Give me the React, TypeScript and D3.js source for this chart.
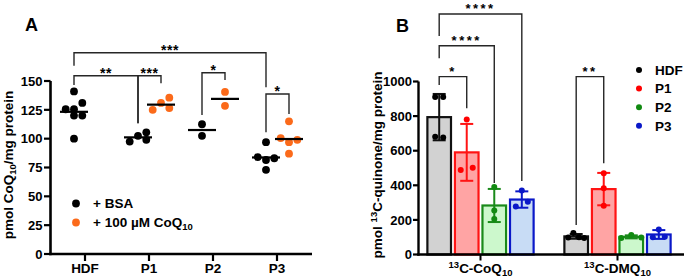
import React from "react";
import * as d3 from "d3";

// ---------- Panel A data ----------
const categoriesA = ["HDF", "P1", "P2", "P3"];
const bsaValues = [
  [141, 131, 125.5, 125.5, 120, 120, 100],
  [97.5, 102.5, 105.5, 99],
  [112.5, 102.5],
  [97, 84, 81.5, 83, 73],
];
const bsaJitter = [
  [0, 1, -1, 0, 0, 1, 0],
  [-1, 0, 1, 1],
  [0, 0],
  [0, -1, 0, 1, 0],
];
const coqValues = [[], [125, 131, 135.5, 126.5], [140.5, 128.5], [115, 100.5, 97, 99, 87]];
const coqJitter = [[], [-1, 0, 1, 1], [0, 0], [0, -1, 0, 1, 0]];
const yTicksA = [0, 25, 50, 75, 100, 125, 150];
// brackets: [category, series] endpoints, bar height, leg ends (data units)
const bracketsA = [
  { label: "***", a: ["HDF", "bsa"], b: ["P3", "bsa"], top: 174.5, endA: 163.3, endB: 144.5 },
  { label: "**", a: ["HDF", "bsa"], b: ["P1", "bsa"], top: 154.6, endA: 146.5, endB: 113.3 },
  { label: "***", a: ["P1", "bsa"], b: ["P1", "coq"], top: 154.6, endA: 113.3, endB: 148 },
  { label: "*", a: ["P2", "bsa"], b: ["P2", "coq"], top: 157.2, endA: 120.5, endB: 150.9 },
  { label: "*", a: ["P3", "bsa"], b: ["P3", "coq"], top: 138.7, endA: 105.5, endB: 121.3 },
];

// ---------- Panel B data ----------
const groupsB = ["13C-CoQ10", "13C-DMQ10"];
const seriesB = ["HDF", "P1", "P2", "P3"];
const coqB = [
  [910, 910, 680, 676],
  [780, 489, 502],
  [390, 255, 205],
  [370, 278, 305],
];
const coqBJitter = [[-1, 1, -1, 1], [0, -1.5, 1.5], [0, 0, 0], [0, -1.5, 1.5]];
const dmqB = [
  [98, 125, 100, 96],
  [469, 383, 282],
  [96, 112, 98],
  [100, 145, 102],
];
const dmqBJitter = [[-2, -0.7, 0.7, 2], [0, 0, 0], [-2.5, 0, 2.5], [-1.5, 0, 1.5]];
const yTicksB = [0, 200, 400, 600, 800, 1000];
const bracketsB = [
  { label: "*", a: [0, "HDF"], b: [0, "P1"], top: 1028, endA: 980, endB: 845 },
  { label: "****", a: [0, "HDF"], b: [0, "P2"], top: 1207, endA: 1134, endB: 413 },
  { label: "****", a: [0, "HDF"], b: [0, "P3"], top: 1390, endA: 1263, endB: 425 },
  { label: "**", a: [1, "HDF"], b: [1, "P1"], top: 1028, endA: 170, endB: 527 },
];

const fillB: Record<string, string> = { HDF: "#d2d2d2", P1: "#ffa4a4", P2: "#ccf8cc", P3: "#c8dcf5" };
const strokeB: Record<string, string> = { HDF: "#111111", P1: "#ff1414", P2: "#1a8a1a", P3: "#0a18c8" };
const dotB: Record<string, string> = { HDF: "#000000", P1: "#ff0000", P2: "#118a11", P3: "#0a18c8" };

const ORANGE = "#fb6a1a";
const FONT = "Arial, 'Liberation Sans', sans-serif";

export default function App() {
  // Panel A scales
  const xA = d3.scaleBand().domain(categoriesA).range([53, 309]);
  const yA = d3.scaleLinear().domain([0, 150]).range([254, 81]);
  const groupOff: Record<string, number> = { bsa: -11, coq: 12 };
  const cx = (cat: string, s: string) => (xA(cat) as number) + xA.bandwidth() / 2 + groupOff[s];
  const jitterA = 8.3;

  // Panel B scales
  const xB = d3.scaleBand().domain(groupsB).range([412, 686]).paddingInner(0.21).paddingOuter(0.105);
  const xBi = d3.scaleBand().domain(seriesB).range([0, xB.bandwidth()]).paddingInner(0.07);
  const yB = d3.scaleLinear().domain([0, 1000]).range([254.5, 81.5]);
  const barCx = (gi: number, s: string) =>
    (xB(groupsB[gi]) as number) + (xBi(s) as number) + xBi.bandwidth() / 2;
  const jitterB = 4;

  const bracketPath = (x1: number, x2: number, yt: number, y1: number, y2: number) =>
    `M${x1},${y1}V${yt}H${x2}V${y2}`;

  const groupDataB = [coqB, dmqB];
  const groupJitB = [coqBJitter, dmqBJitter];

  return (
    <svg
      width={685}
      height={279}
      style={{ position: "absolute", left: 0, top: 0, background: "#fff" }}
      fontFamily={FONT}
      fontWeight="bold"
    >
      {/* ================= Panel A ================= */}
      <text x={25} y={31} fontSize={18}>A</text>
      {/* y axis */}
      <line x1={50.5} x2={50.5} y1={yA(150)} y2={yA(0) + 1.2} stroke="#000" strokeWidth={2.6} />
      {yTicksA.map((t) => (
        <g key={t}>
          <line x1={44} x2={50.5} y1={yA(t)} y2={yA(t)} stroke="#000" strokeWidth={2.2} />
          <text x={42.5} y={yA(t)} dy="0.36em" textAnchor="end" fontSize={13}>{t}</text>
        </g>
      ))}
      {/* x axis */}
      <line x1={49.2} x2={312} y1={yA(0)} y2={yA(0)} stroke="#000" strokeWidth={2.6} />
      {categoriesA.map((c) => {
        const x = (xA(c) as number) + xA.bandwidth() / 2;
        return (
          <g key={c}>
            <line x1={x} x2={x} y1={yA(0)} y2={yA(0) + 7} stroke="#000" strokeWidth={2.2} />
            <text x={x} y={273} textAnchor="middle" fontSize={13.5}>{c}</text>
          </g>
        );
      })}
      {/* y label */}
      <text transform={`translate(13,165) rotate(-90)`} textAnchor="middle" fontSize={13.5}>
        pmol CoQ<tspan fontSize={9.5} dy={3}>10</tspan>
        <tspan dy={-3}>/mg protein</tspan>
      </text>
      {/* points */}
      {categoriesA.map((c, ci) => (
        <g key={c}>
          {[{ s: "bsa", vals: bsaValues[ci], jit: bsaJitter[ci], col: "#000" },
            { s: "coq", vals: coqValues[ci], jit: coqJitter[ci], col: ORANGE }].map((g) =>
            g.vals.length ? (
              <g key={g.s}>
                {g.vals.map((v, i) => (
                  <circle key={i} cx={cx(c, g.s) + g.jit[i] * jitterA} cy={yA(v)} r={3.9} fill={g.col} />
                ))}
                <line
                  x1={cx(c, g.s) - 14}
                  x2={cx(c, g.s) + 14}
                  y1={yA(d3.mean(g.vals) as number)}
                  y2={yA(d3.mean(g.vals) as number)}
                  stroke="#000"
                  strokeWidth={2.2}
                />
              </g>
            ) : null
          )}
        </g>
      ))}
      {/* brackets A */}
      {bracketsA.map((b, i) => {
        const x1 = cx(b.a[0], b.a[1]);
        const x2 = cx(b.b[0], b.b[1]);
        return (
          <g key={i}>
            <path d={bracketPath(x1, x2, yA(b.top), yA(b.endA), yA(b.endB))} fill="none" stroke="#262626" strokeWidth={1.4} />
            <text x={(x1 + x2) / 2} y={yA(b.top) + 2} textAnchor="middle" fontSize={14} letterSpacing={0.5}>{b.label}</text>
          </g>
        );
      })}
      {/* legend A */}
      <circle cx={76} cy={203.5} r={3.9} fill="#000" />
      <text x={93} y={203.5} dy="0.36em" fontSize={13.5}>+ BSA</text>
      <circle cx={76} cy={222.5} r={3.9} fill={ORANGE} />
      <text x={93} y={222.5} dy="0.36em" fontSize={13.5}>
        + 100 µM CoQ<tspan fontSize={9.5} dy={3}>10</tspan>
      </text>

      {/* ================= Panel B ================= */}
      <text x={396} y={32} fontSize={18}>B</text>
      {/* y axis */}
      <line x1={418.5} x2={418.5} y1={yB(1000)} y2={yB(0) + 1.2} stroke="#000" strokeWidth={2.4} />
      {yTicksB.map((t) => (
        <g key={t}>
          <line x1={413} x2={418.5} y1={yB(t)} y2={yB(t)} stroke="#000" strokeWidth={2.2} />
          <text x={412} y={yB(t)} dy="0.36em" textAnchor="end" fontSize={13}>{t}</text>
        </g>
      ))}
      {/* y label */}
      <text transform={`translate(381.5,165) rotate(-90)`} textAnchor="middle" fontSize={13.5}>
        pmol <tspan fontSize={9.5} dy={-5}>13</tspan>
        <tspan dy={5}>C-quinone/mg protein</tspan>
      </text>
      {/* bars */}
      {groupsB.map((g, gi) => (
        <g key={g}>
          {seriesB.map((s, si) => {
            const vals = groupDataB[gi][si];
            const m = d3.mean(vals) as number;
            const sd = d3.deviation(vals) as number;
            const x0 = (xB(g) as number) + (xBi(s) as number);
            const c = barCx(gi, s);
            return (
              <g key={s}>
                <rect x={x0 + 1} y={yB(m)} width={xBi.bandwidth() - 2} height={yB(0) - yB(m)} fill={fillB[s]} stroke={strokeB[s]} strokeWidth={2.2} />
                <line x1={c} x2={c} y1={yB(m - sd)} y2={yB(m + sd)} stroke={strokeB[s]} strokeWidth={2} />
                <line x1={c - 6.5} x2={c + 6.5} y1={yB(m + sd)} y2={yB(m + sd)} stroke={strokeB[s]} strokeWidth={2} />
                <line x1={c - 6.5} x2={c + 6.5} y1={yB(m - sd)} y2={yB(m - sd)} stroke={strokeB[s]} strokeWidth={2} />
                {vals.map((v, i) => (
                  <circle key={i} cx={c + groupJitB[gi][si][i] * jitterB} cy={yB(v)} r={3} fill={dotB[s]} />
                ))}
              </g>
            );
          })}
        </g>
      ))}
      {/* x axis */}
      <line x1={417.3} x2={684} y1={yB(0)} y2={yB(0)} stroke="#000" strokeWidth={2.4} />
      {groupsB.map((g, gi) => {
        const x = (xB(g) as number) + xB.bandwidth() / 2;
        return (
          <g key={g}>
            <line x1={x} x2={x} y1={yB(0)} y2={yB(0) + 6} stroke="#000" strokeWidth={2} />
            <text x={x} y={273} textAnchor="middle" fontSize={13.5}>
              <tspan fontSize={9.5} dy={-5}>13</tspan>
              <tspan dy={5}>{gi === 0 ? "C-CoQ" : "C-DMQ"}</tspan>
              <tspan fontSize={9.5} dy={3}>10</tspan>
            </text>
          </g>
        );
      })}
      {/* brackets B */}
      {bracketsB.map((b, i) => {
        const x1 = barCx(b.a[0] as number, b.a[1] as string);
        const x2 = barCx(b.b[0] as number, b.b[1] as string);
        return (
          <g key={i}>
            <path d={bracketPath(x1, x2, yB(b.top), yB(b.endA), yB(b.endB))} fill="none" stroke="#262626" strokeWidth={1.4} />
            <text x={(x1 + x2) / 2} y={yB(b.top) - 1} textAnchor="middle" fontSize={13} letterSpacing={2.5}>{b.label}</text>
          </g>
        );
      })}
      {/* legend B */}
      {seriesB.map((s, i) => (
        <g key={s}>
          <circle cx={639} cy={70 + i * 18.6} r={3} fill={dotB[s]} />
          <text x={655} y={70 + i * 18.6} dy="0.36em" fontSize={13.5}>{s}</text>
        </g>
      ))}
    </svg>
  );
}
